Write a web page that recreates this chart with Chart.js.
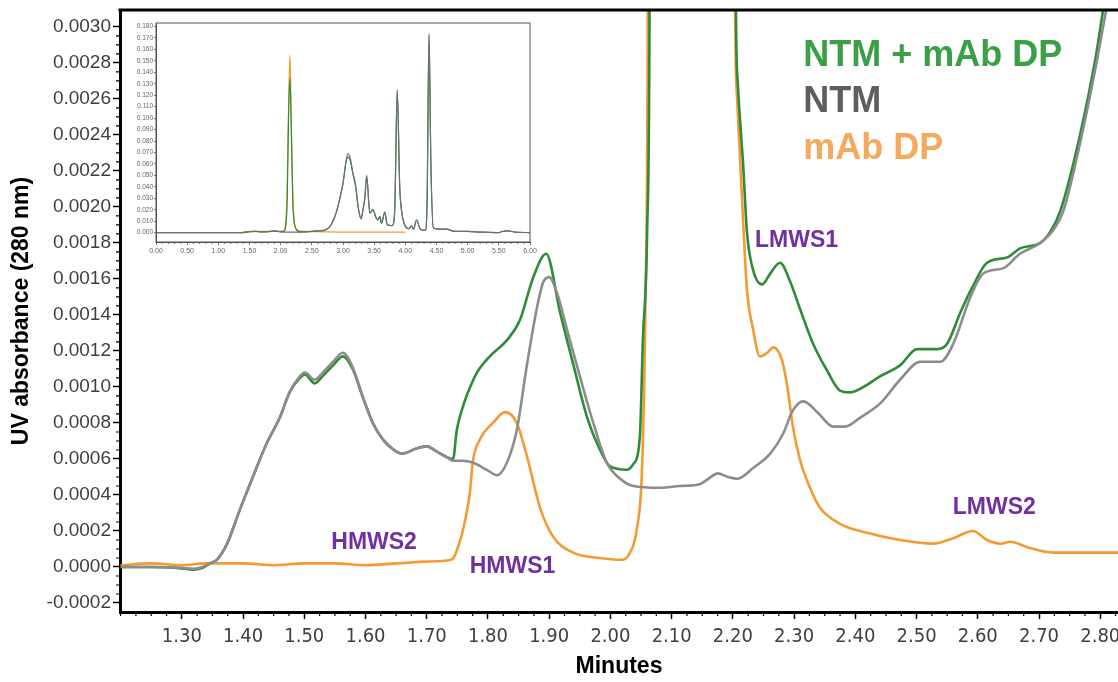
<!DOCTYPE html>
<html>
<head>
<meta charset="utf-8">
<script src="https://cdn.jsdelivr.net/npm/chart.js@4.4.1/dist/chart.umd.min.js"></script>
<style>
  html, body { margin: 0; padding: 0; background: #fff; }
  #wrap { position: relative; width: 1118px; height: 682px; overflow: hidden; }
  #main { position: absolute; left: 0; top: 0; }
  #inset { position: absolute; left: 128px; top: 14px; }
</style>
</head>
<body>
<div id="wrap">
  <canvas id="main" width="1118" height="682"></canvas>
  <canvas id="inset" width="410" height="246"></canvas>
</div>
<script>
// tick labels
const xTicks = [1.30, 1.40, 1.50, 1.60, 1.70, 1.80, 1.90, 2.00, 2.10, 2.20, 2.30, 2.40, 2.50, 2.60, 2.70, 2.80];
const yTicks = [-0.0002, 0, 0.0002, 0.0004, 0.0006, 0.0008, 0.0010, 0.0012, 0.0014, 0.0016, 0.0018, 0.0020, 0.0022, 0.0024, 0.0026, 0.0028, 0.0030];
const insetXTicks = [0, 0.5, 1, 1.5, 2, 2.5, 3, 3.5, 4, 4.5, 5, 5.5, 6];
const insetYTicks = [0, 0.01, 0.02, 0.03, 0.04, 0.05, 0.06, 0.07, 0.08, 0.09, 0.10, 0.11, 0.12, 0.13, 0.14, 0.15, 0.16, 0.17, 0.18];

// NTM (gray)
const ntmTime = [1.20, 1.25, 1.30, 1.318, 1.334, 1.346, 1.357, 1.374, 1.395, 1.416, 1.439, 1.460, 1.476, 1.493, 1.501, 1.517, 1.530, 1.547, 1.563, 1.579, 1.596, 1.612, 1.628, 1.651, 1.661, 1.684, 1.700, 1.717, 1.733, 1.743,
  1.759, 1.775, 1.798, 1.815, 1.831, 1.847, 1.864, 1.880, 1.890, 1.900, 1.913, 1.929, 1.950, 1.972, 1.994, 2.016, 2.037, 2.081, 2.114, 2.146, 2.160, 2.175, 2.192, 2.207, 2.233, 2.261, 2.282, 2.298, 2.315, 2.338, 2.364, 2.383, 2.408, 2.441, 2.473, 2.506, 2.539, 2.560, 2.588, 2.609, 2.642, 2.669, 2.702, 2.723, 2.740, 2.770, 2.795, 2.810, 2.830];
const ntmAbs = [0, 0, -0.000005, -0.00001, 0, 0.00002, 0.00004, 0.00013, 0.00032, 0.00050, 0.00069, 0.00083, 0.00097, 0.00106, 0.00108, 0.00104, 0.00108, 0.00114, 0.00119, 0.00111, 0.00094, 0.00080, 0.00071, 0.00064, 0.00063, 0.00066, 0.00067, 0.00064, 0.00061, 0.00059,
  0.00059, 0.00058, 0.00054, 0.00051, 0.00058, 0.00076, 0.00113, 0.00144, 0.00158, 0.00161, 0.00152, 0.00132, 0.00106, 0.00080, 0.00058, 0.00049, 0.00045, 0.00044, 0.00045, 0.00046, 0.00049, 0.00052, 0.00050, 0.00049, 0.00055, 0.00063, 0.00074, 0.00087, 0.00092, 0.00086, 0.00078, 0.00078, 0.00083, 0.00091, 0.00104, 0.00114, 0.00114, 0.00124, 0.00150, 0.00163, 0.00166, 0.00174, 0.00180, 0.00187, 0.00198, 0.00240, 0.00282, 0.00310, 0.00350];

// NTM + mAb DP (green)
const mixTime = [1.20, 1.25, 1.30, 1.318, 1.334, 1.346, 1.357, 1.374, 1.395, 1.416, 1.439, 1.460, 1.476, 1.493, 1.501, 1.517, 1.530, 1.547, 1.563, 1.579, 1.596, 1.612, 1.628, 1.651, 1.661, 1.684, 1.700, 1.717, 1.733, 1.743,
  1.749, 1.759, 1.771, 1.782, 1.803, 1.831, 1.852, 1.874, 1.895, 1.918, 1.939, 1.962, 1.983, 1.999, 2.027, 2.037, 2.048, 2.053, 2.060, 2.064, 2.080, 2.120, 2.150, 2.180, 2.198, 2.205, 2.208, 2.217, 2.223, 2.233, 2.248, 2.261, 2.277, 2.293, 2.310, 2.331, 2.354, 2.375, 2.391, 2.408, 2.441, 2.473, 2.501, 2.534, 2.550, 2.571, 2.592, 2.615, 2.648, 2.669, 2.702, 2.718, 2.735, 2.767, 2.792, 2.805, 2.830];
const mixAbs = [0, 0, -0.000008, -0.000015, -0.000005, 0.00002, 0.00004, 0.00013, 0.00032, 0.00050, 0.00069, 0.00083, 0.00097, 0.00105, 0.00107, 0.00102, 0.00106, 0.00112, 0.00117, 0.00110, 0.00094, 0.00080, 0.00071, 0.00064, 0.00063, 0.00066, 0.00067, 0.00064, 0.00061, 0.00060,
  0.00076, 0.00089, 0.00100, 0.00108, 0.00117, 0.00126, 0.00137, 0.00161, 0.00174, 0.00141, 0.00113, 0.00083, 0.00065, 0.00056, 0.00054, 0.00057, 0.00072, 0.00126, 0.00187, 0.0032, 0.03, 0.10, 0.135, 0.06, 0.01, 0.0031, 0.00269, 0.00222, 0.00186, 0.00165, 0.00157, 0.00163, 0.00169, 0.00159, 0.00143, 0.00124, 0.00109, 0.00098, 0.00097, 0.00099, 0.00106, 0.00112, 0.00121, 0.00121, 0.00124, 0.00141, 0.00156, 0.00169, 0.00172, 0.00177, 0.00180, 0.00186, 0.00198, 0.00240, 0.00282, 0.00310, 0.00360];

// mAb DP (orange)
const mabTime = [1.20, 1.25, 1.30, 1.34, 1.40, 1.45, 1.50, 1.55, 1.60, 1.65, 1.70, 1.740, 1.749, 1.764, 1.771, 1.775, 1.787, 1.808, 1.828, 1.847, 1.864, 1.885, 1.906, 1.939, 1.983, 2.016, 2.032, 2.043, 2.052, 2.057, 2.061, 2.080, 2.120, 2.150, 2.180, 2.197, 2.204, 2.207, 2.215, 2.223, 2.233, 2.244, 2.256, 2.266, 2.280, 2.289, 2.298, 2.310, 2.326, 2.342, 2.375, 2.419, 2.473, 2.527, 2.560, 2.592, 2.615, 2.637, 2.653, 2.681, 2.723, 2.779, 2.830];
const mabAbs = [0.00001, 0.00002, 0.00001, 0.00002, 0.00002, 0.00001, 0.00002, 0.00002, 0.00001, 0.00002, 0.00003, 0.00004, 0.00009, 0.00028, 0.00043, 0.00058, 0.00071, 0.00080, 0.00086, 0.00080, 0.00061, 0.00033, 0.00017, 0.00008, 0.00005, 0.00004, 0.00008, 0.00021, 0.00058, 0.00143, 0.0031, 0.04, 0.12, 0.155, 0.07, 0.01, 0.0030, 0.0026, 0.00204, 0.00154, 0.00132, 0.00117, 0.00119, 0.00122, 0.00115, 0.00100, 0.00078, 0.00059, 0.00044, 0.00033, 0.00024, 0.00019, 0.00015, 0.00013, 0.00016, 0.00020, 0.00015, 0.00013, 0.00014, 0.00011, 0.00008, 0.00008, 0.00008];

// inset: full run 0-6 min
const insetNtmTime = [0, 1.0, 1.4, 1.5, 1.6, 1.7, 1.8, 1.9, 2.0, 2.1, 2.2, 2.3, 2.4, 2.5, 2.6, 2.7, 2.8, 2.9, 2.95, 3.0, 3.05, 3.08, 3.12, 3.16, 3.2, 3.25, 3.29, 3.32, 3.35, 3.38, 3.43, 3.48, 3.53, 3.56, 3.59, 3.62, 3.67, 3.71, 3.79, 3.83, 3.87, 3.91, 3.94, 3.98, 4.06, 4.10, 4.13, 4.18, 4.24, 4.32, 4.35, 4.38, 4.41, 4.45, 4.55, 4.66, 4.8, 5.0, 5.2, 5.5, 5.55, 5.65, 5.75, 6.0];
const insetNtmAbs = [0, 0, 0, 0.0008, 0.001, 0.0006, 0.0008, 0.0015, 0.0006, 0.0004, 0.0005, 0.0005, 0.0007, 0.001, 0.0015, 0.002, 0.006, 0.019, 0.03, 0.043, 0.063, 0.069, 0.064, 0.052, 0.042, 0.020, 0.012, 0.020, 0.030, 0.050, 0.017, 0.020, 0.013, 0.011, 0.014, 0.008, 0.018, 0.007, 0.006, 0.020, 0.125, 0.040, 0.019, 0.008, 0.0035, 0.006, 0.003, 0.011, 0.003, 0.002, 0.030, 0.174, 0.060, 0.004, 0.003, 0.003, 0.001, 0.001, 0.0005, 0, 0.001, 0.0015, 0.0005, 0];
const insetMixTime = [0, 1.0, 1.4, 1.5, 1.6, 1.7, 1.8, 1.9, 2.0, 2.05, 2.10, 2.13, 2.15, 2.17, 2.20, 2.25, 2.3, 2.4, 2.5, 2.6, 2.7, 2.8, 2.9, 2.95, 3.0, 3.05, 3.08, 3.12, 3.16, 3.2, 3.25, 3.29, 3.32, 3.35, 3.38, 3.43, 3.48, 3.53, 3.56, 3.59, 3.62, 3.67, 3.71, 3.79, 3.83, 3.87, 3.91, 3.94, 3.98, 4.06, 4.10, 4.13, 4.18, 4.24, 4.32, 4.35, 4.38, 4.41, 4.45, 4.55, 4.66, 4.8, 5.0, 5.2, 5.5, 5.55, 5.65, 5.75, 6.0];
const insetMixAbs = [0, 0, 0, 0.0008, 0.001, 0.0006, 0.0008, 0.0015, 0.0008, 0.001, 0.02, 0.11, 0.135, 0.09, 0.02, 0.003, 0.0006, 0.0007, 0.001, 0.0015, 0.002, 0.006, 0.019, 0.03, 0.043, 0.062, 0.066, 0.062, 0.051, 0.041, 0.020, 0.012, 0.020, 0.030, 0.049, 0.017, 0.020, 0.013, 0.011, 0.014, 0.008, 0.018, 0.007, 0.006, 0.020, 0.124, 0.040, 0.019, 0.008, 0.0035, 0.006, 0.003, 0.011, 0.003, 0.002, 0.030, 0.172, 0.060, 0.004, 0.003, 0.003, 0.001, 0.001, 0.0005, 0, 0.001, 0.0015, 0.0005, 0];
const insetMabTime = [1.4, 1.6, 1.9, 2.05, 2.10, 2.13, 2.15, 2.17, 2.20, 2.25, 2.4, 3.0, 4.0];
const insetMabAbs = [0.0008, 0.001, 0.001, 0.0015, 0.03, 0.12, 0.155, 0.10, 0.025, 0.003, 0.001, 0.0005, 0.0005];

const GREEN = '#2e8b3a';
const GRAY = '#8c8c8c';
const ORANGE = '#f49a32';
const PURPLE = '#7030a0';

function pts(t, v) { return t.map((x, i) => ({ x: x, y: v[i] })); }

// no extra label padding, keeps the plot area where it belongs
function noPad(s) { s.paddingLeft = 0; s.paddingRight = 0; s.paddingTop = 0; s.paddingBottom = 0; }

function drawMinor(ctx, scale, from, to, step, len, majors) {
  ctx.beginPath();
  for (let v = from; v <= to + step / 10; v += step) {
    if (majors.some(m => Math.abs(m - v) < step / 10)) continue;
    const p = scale.getPixelForValue(v);
    if (scale.isHorizontal()) {
      ctx.moveTo(p, scale.top); ctx.lineTo(p, scale.top + len);
    } else {
      ctx.moveTo(scale.right, p); ctx.lineTo(scale.right - len, p);
    }
  }
  ctx.stroke();
}

const mainDecor = {
  id: 'mainDecor',
  afterDraw(chart) {
    const { ctx, chartArea: a, scales: { x, y } } = chart;
    ctx.save();
    ctx.strokeStyle = '#000';
    ctx.lineWidth = 3;
    ctx.beginPath();
    ctx.moveTo(a.left - 1.5, a.top);
    ctx.lineTo(a.right, a.top);
    ctx.stroke();
    ctx.lineWidth = 1.2;
    drawMinor(ctx, x, 1.20, 2.825, 0.025, 4, xTicks);
    drawMinor(ctx, y, -0.0002, 0.0030, 0.00005, 4, yTicks);

    ctx.textBaseline = 'middle';
    ctx.textAlign = 'center';
    ctx.fillStyle = PURPLE;
    ctx.font = 'bold 23px "Liberation Sans", Arial, sans-serif';
    const labels = [['HMWS2', 1.614, 0.000133], ['HMWS1', 1.840, 0.0], ['LMWS1', 2.304, 0.00181], ['LMWS2', 2.627, 0.000328]];
    labels.forEach(l => ctx.fillText(l[0], x.getPixelForValue(l[1]), y.getPixelForValue(l[2])));

    ctx.textAlign = 'left';
    ctx.font = 'bold 36px "Liberation Sans", Arial, sans-serif';
    const lx = x.getPixelForValue(2.315);
    ctx.fillStyle = '#3a9f46';
    ctx.fillText('NTM + mAb DP', lx, y.getPixelForValue(0.00284));
    ctx.fillStyle = '#5e5e5e';
    ctx.fillText('NTM', lx, y.getPixelForValue(0.00258));
    ctx.fillStyle = '#f5a95c';
    ctx.fillText('mAb DP', lx, y.getPixelForValue(0.00232));
    ctx.restore();
  }
};

new Chart(document.getElementById('main').getContext('2d'), {
  type: 'line',
  data: {
    datasets: [
      { label: 'NTM', data: pts(ntmTime, ntmAbs), borderColor: GRAY, borderWidth: 2.6 },
      { label: 'NTM + mAb DP', data: pts(mixTime, mixAbs), borderColor: GREEN, borderWidth: 2.6 },
      { label: 'mAb DP', data: pts(mabTime, mabAbs), borderColor: ORANGE, borderWidth: 2.6 }
    ]
  },
  options: {
    responsive: false,
    animation: false,
    events: [],
    elements: { point: { radius: 0 }, line: { cubicInterpolationMode: 'monotone' } },
    layout: { padding: { top: 10, right: 0, left: 0, bottom: 0 } },
    plugins: { legend: { display: false }, tooltip: { enabled: false } },
    scales: {
      x: {
        type: 'linear', min: 1.199, max: 2.829,
        afterBuildTicks: s => { s.ticks = xTicks.map(v => ({ value: v })); },
        afterFit: s => { s.height = 70; noPad(s); },
        ticks: {
          callback: v => v.toFixed(2), autoSkip: false, maxRotation: 0, padding: 6,
          color: '#3f3f3f', font: { family: '"Liberation Sans Narrow", "DejaVu Sans Condensed", sans-serif', size: 20 }
        },
        grid: { drawOnChartArea: false, tickLength: 7, tickColor: '#000', tickWidth: 1.5 },
        border: { color: '#000', width: 3 },
        title: {
          display: true, text: 'Minutes', color: '#000', padding: { top: 0, bottom: 2 },
          font: { family: '"Liberation Sans", Arial, sans-serif', size: 23, weight: 'bold' }
        }
      },
      y: {
        type: 'linear', min: -0.00025, max: 0.003094,
        afterBuildTicks: s => { s.ticks = yTicks.map(v => ({ value: v })); },
        afterFit: s => { s.width = 120; noPad(s); },
        ticks: {
          callback: v => v.toFixed(4), autoSkip: false, padding: 2,
          color: '#3f3f3f', font: { family: '"Liberation Sans", Arial, sans-serif', size: 19 }
        },
        grid: { drawOnChartArea: false, tickLength: 7, tickColor: '#000', tickWidth: 1.5 },
        border: { color: '#000', width: 3 },
        title: {
          display: true, text: 'UV absorbance (280 nm)', color: '#000', padding: { top: 8, bottom: 0 },
          font: { family: '"Liberation Sans", Arial, sans-serif', size: 23, weight: 'bold' }
        }
      }
    }
  },
  plugins: [mainDecor]
});

const insetDecor = {
  id: 'insetDecor',
  beforeDraw(chart) {
    const { ctx, chartArea: a } = chart;
    ctx.save();
    ctx.fillStyle = '#fff';
    ctx.fillRect(a.left, a.top, a.right - a.left, a.bottom - a.top);
    ctx.restore();
  },
  afterDraw(chart) {
    const { ctx, chartArea: a, scales: { x } } = chart;
    ctx.save();
    ctx.strokeStyle = '#555';
    ctx.lineWidth = 1;
    ctx.strokeRect(a.left, a.top, a.right - a.left, a.bottom - a.top);
    ctx.lineWidth = 0.8;
    drawMinor(ctx, x, 0, 6, 0.1, 2, insetXTicks);
    ctx.restore();
  }
};

new Chart(document.getElementById('inset').getContext('2d'), {
  type: 'line',
  data: {
    datasets: [
      { label: 'NTM', data: pts(insetNtmTime, insetNtmAbs), borderColor: '#6f6f6f', borderWidth: 1.2 },
      { label: 'NTM + mAb DP', data: pts(insetMixTime, insetMixAbs), borderColor: GREEN, borderWidth: 1.2 },
      { label: 'mAb DP', data: pts(insetMabTime, insetMabAbs), borderColor: ORANGE, borderWidth: 1.2 }
    ]
  },
  options: {
    responsive: false,
    animation: false,
    events: [],
    elements: { point: { radius: 0 }, line: { cubicInterpolationMode: 'monotone' } },
    layout: { padding: { top: 9, right: 8, left: 0, bottom: 0 } },
    plugins: { legend: { display: false }, tooltip: { enabled: false } },
    scales: {
      x: {
        type: 'linear', min: 0, max: 6,
        afterBuildTicks: s => { s.ticks = insetXTicks.map(v => ({ value: v })); },
        afterFit: s => { s.height = 18; noPad(s); },
        ticks: { callback: v => v.toFixed(2), autoSkip: false, maxRotation: 0, padding: 2, color: '#666', font: { family: '"Liberation Sans", Arial, sans-serif', size: 7 } },
        grid: { drawOnChartArea: false, tickLength: 3, tickColor: '#555', tickWidth: 0.8 },
        border: { color: '#555', width: 1 }
      },
      y: {
        type: 'linear', min: -0.0082, max: 0.1831,
        afterBuildTicks: s => { s.ticks = insetYTicks.map(v => ({ value: v })); },
        afterFit: s => { s.width = 28; noPad(s); },
        ticks: { callback: v => v.toFixed(3), autoSkip: false, padding: 1, color: '#666', font: { family: '"Liberation Sans", Arial, sans-serif', size: 6.5 } },
        grid: { drawOnChartArea: false, tickLength: 2, tickColor: '#555', tickWidth: 0.8 },
        border: { color: '#555', width: 1 }
      }
    }
  },
  plugins: [insetDecor]
});
</script>
</body>
</html>
